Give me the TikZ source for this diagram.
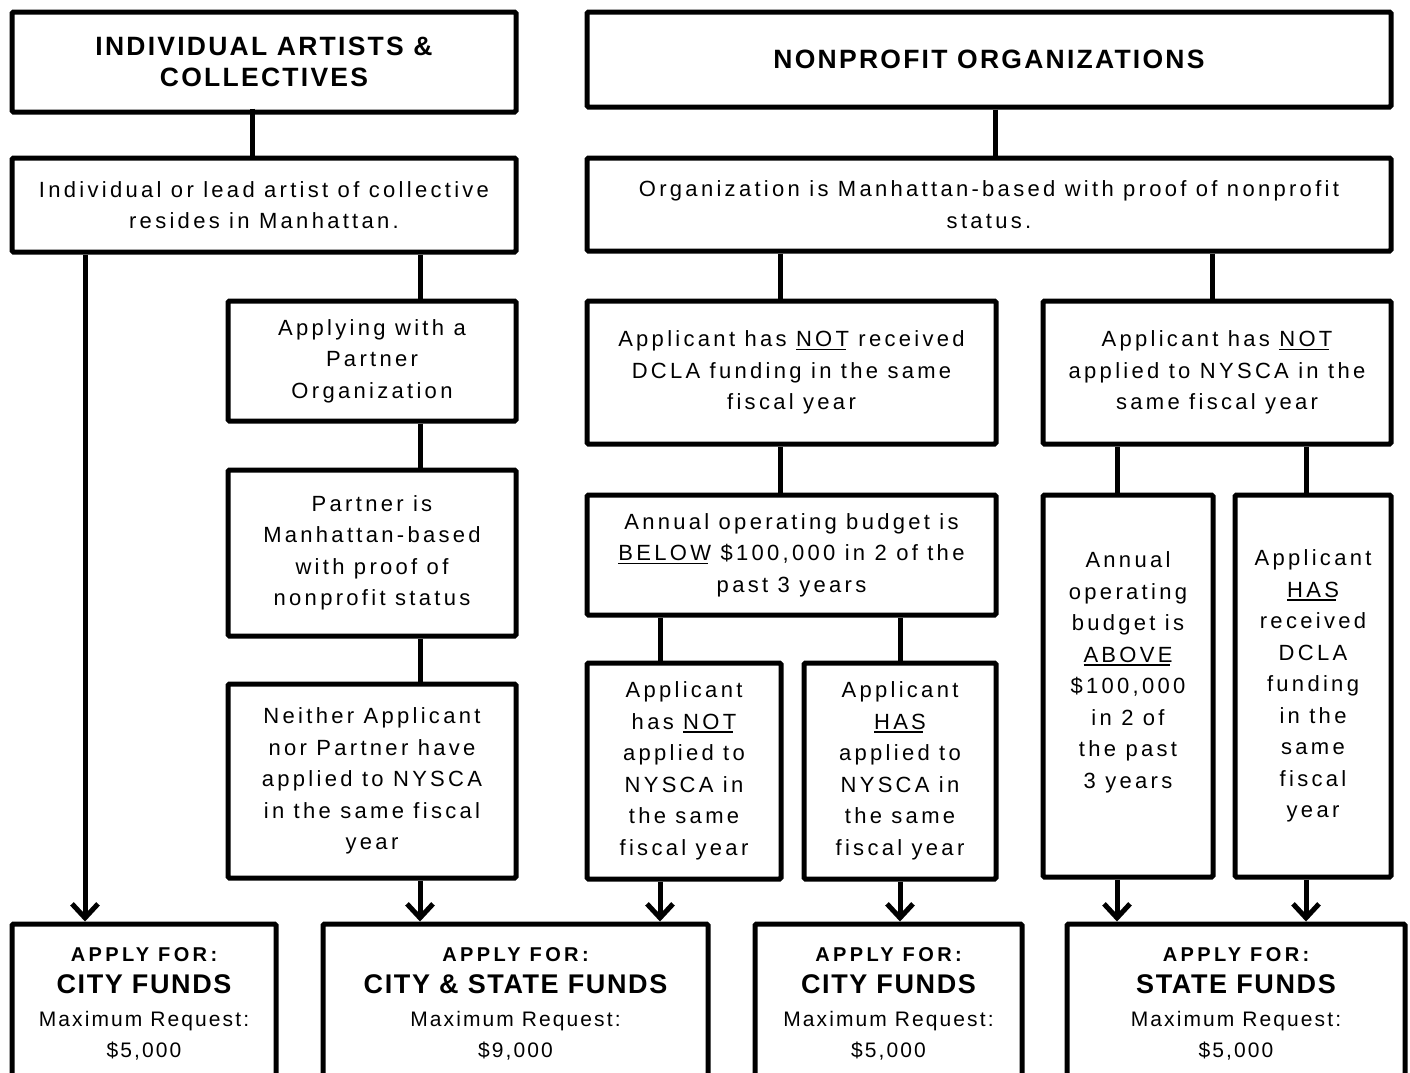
\documentclass[tikz,border=0pt]{standalone}
\usepackage{fontspec}
\usetikzlibrary{arrows.meta}
\newfontfamily\bodyf{Liberation Sans}[LetterSpace=15]
\newfontfamily\headf{Liberation Sans}[LetterSpace=8.5]
\newfontfamily\fafont{Liberation Sans}[LetterSpace=17]
\newfontfamily\fbfont{Liberation Sans}[LetterSpace=6]
\newfontfamily\fcfont{Liberation Sans}[LetterSpace=10]
\newcommand\ulw[1]{\setbox0\hbox{#1}\rlap{\rule[-3.5pt]{\dimexpr\wd0-3pt\relax}{1.5pt}}\box0\relax}
\tikzset{
  box/.style={draw, line width=5pt, rounded corners=1.5pt, align=center, inner sep=0pt,
    font=\bodyf\fontsize{22}{31.5}\selectfont},
  headbox/.style={box, font=\headf\bfseries\fontsize{26.5}{31}\selectfont},
  fundbox/.style={draw, line width=5pt, rounded corners=1.5pt, inner sep=0pt},
  conn/.style={line width=5pt},
  arr/.style={line width=5pt, -{Straight Barb[length=14pt,width=26pt]}},
  ftxt/.style={anchor=base, inner sep=0pt},
  fa/.style={ftxt, font=\fafont\bfseries\fontsize{20}{22}\selectfont},
  fb/.style={ftxt, font=\fbfont\bfseries\fontsize{27}{30}\selectfont},
  fc/.style={ftxt, font=\fcfont\fontsize{21}{25}\selectfont},
}
\begin{document}
\begin{tikzpicture}[x=1pt,y=1pt]
\useasboundingbox (0,0) rectangle (1410,-1072);
\clip (0,0) rectangle (1410,-1072);
\fill[white] (0,0) rectangle (1410,-1072);

% top level
\node[headbox, minimum width=504, minimum height=100] (A) at (264,-62) {INDIVIDUAL ARTISTS \&\\COLLECTIVES};
\node[headbox, minimum width=804, minimum height=95] (B) at (989,-59.5) {NONPROFIT ORGANIZATIONS};

\node[box, minimum width=504, minimum height=94] (C) at (264,-205) {Individual or lead artist of collective\\resides in Manhattan.};
\node[box, minimum width=804, minimum height=93] (D) at (989,-204.5) {Organization is Manhattan-based with proof of nonprofit\\status.};

% artists branch
\node[box, minimum width=288, minimum height=120] (E) at (372,-361) {Applying with a\\Partner\\Organization};
\node[box, minimum width=288, minimum height=166] (F) at (372,-553) {Partner is\\Manhattan-based\\with proof of\\nonprofit status};
\node[box, minimum width=288, minimum height=194] (G) at (372,-781) {Neither Applicant\\nor Partner have\\applied to NYSCA\\in the same fiscal\\year};

% organizations branch
\node[box, minimum width=409, minimum height=143] (H) at (791.5,-372.5) {Applicant has \ulw{NOT} received\\DCLA funding in the same\\fiscal year};
\node[box, minimum width=348, minimum height=143] (I) at (1217,-372.5) {Applicant has \ulw{NOT}\\applied to NYSCA in the\\same fiscal year};
\node[box, minimum width=409, minimum height=120] (J) at (791.5,-555) {Annual operating budget is\\\ulw{BELOW} \$100,000 in 2 of the\\past 3 years};
\node[box, minimum width=194, minimum height=216] (K) at (684,-771) {Applicant\\has \ulw{NOT}\\applied to\\NYSCA in\\the same\\fiscal year};
\node[box, minimum width=192, minimum height=216] (L) at (900,-771) {Applicant\\\ulw{HAS}\\applied to\\NYSCA in\\the same\\fiscal year};
\node[box, minimum width=170, minimum height=382] (M) at (1128,-686) {Annual\\operating\\budget is\\\ulw{ABOVE}\\\$100,000\\in 2 of\\the past\\3 years\\\mbox{}};
\node[box, minimum width=156, minimum height=382] (N) at (1313,-686) {Applicant\\\ulw{HAS}\\received\\DCLA\\funding\\in the\\same\\fiscal\\year};

% result boxes
\node[fundbox, minimum width=264, minimum height=158] (P1) at (144,-1003) {};
\node[fundbox, minimum width=385, minimum height=158] (P2) at (515.5,-1003) {};
\node[fundbox, minimum width=267, minimum height=158] (P3) at (888.5,-1003) {};
\node[fundbox, minimum width=338, minimum height=158] (P4) at (1236,-1003) {};

\foreach \p/\f/\m in {P1/CITY FUNDS/\$5{,}000, P2/CITY \& STATE FUNDS/\$9{,}000, P3/CITY FUNDS/\$5{,}000, P4/STATE FUNDS/\$5{,}000}{
  \node[fa] at ([yshift=-40pt]\p.north) {APPLY FOR:};
  \node[fb] at ([yshift=-72pt]\p.north) {\f};
  \node[fc] at ([yshift=-104.5pt]\p.north) {Maximum Request:};
  \node[fc] at ([yshift=-136pt]\p.north) {\m};
}

% connector columns
\coordinate (k252) at (252,0);
\coordinate (k995) at (995,0);
\coordinate (k85) at (85,0);
\coordinate (k420) at (420,0);
\coordinate (k780) at (780,0);
\coordinate (k1212) at (1212,0);
\coordinate (k660) at (660,0);
\coordinate (k900) at (900,0);
\coordinate (k1117) at (1117,0);
\coordinate (k1306) at (1306,0);

\draw[conn] ([yshift=6pt]A.south -| k252) -- (C.north -| k252);
\draw[conn] (B.south -| k995) -- (D.north -| k995);
\draw[conn] (C.south -| k420) -- (E.north -| k420);
\draw[conn] (E.south -| k420) -- (F.north -| k420);
\draw[conn] (F.south -| k420) -- (G.north -| k420);
\draw[conn] (D.south -| k780) -- (H.north -| k780);
\draw[conn] (D.south -| k1212) -- (I.north -| k1212);
\draw[conn] (H.south -| k780) -- (J.north -| k780);
\draw[conn] (J.south -| k660) -- (K.north -| k660);
\draw[conn] (J.south -| k900) -- (L.north -| k900);
\draw[conn] (I.south -| k1117) -- (M.north -| k1117);
\draw[conn] (I.south -| k1306) -- (N.north -| k1306);

\draw[arr] (C.south -| k85) -- (P1.north -| k85);
\draw[arr] (G.south -| k420) -- (P2.north -| k420);
\draw[arr] (K.south -| k660) -- (P2.north -| k660);
\draw[arr] (L.south -| k900) -- (P3.north -| k900);
\draw[arr] (M.south -| k1117) -- (P4.north -| k1117);
\draw[arr] (N.south -| k1306) -- (P4.north -| k1306);
\end{tikzpicture}
\end{document}
